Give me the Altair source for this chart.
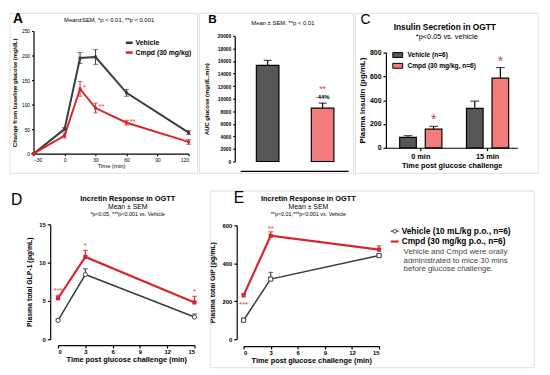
import altair as alt
import pandas as pd

FONT = "Liberation Sans"
RED = "#d8242b"
DARK = "#3b3b3b"
BAR_DARK = "#575757"
BAR_RED = "#f47b7b"
STAR = "#e23a40"
FRAME = "#e0e0e0"
GROUPS = ["Vehicle", "Cmpd"]

# ---------------- data ----------------
a_time = [-30, 0, 15, 30, 60, 120]
a_veh = [0, 50, 195, 197, 124, 43]
a_veh_sem = [0, 3, 11, 15, 7, 4]
a_cmp = [0, 37, 132, 93, 63, 24]
a_cmp_sem = [0, 5, 15, 10, 5, 5]
a_star_time = [15, 30, 60]
a_star_text = ["*", "**", "**"]
a_xticks = [-30, 0, 30, 60, 90, 120]
a_yticks = [0, 50, 100, 150, 200, 250]
a_legend = ["Vehicle", "Cmpd (30 mg/kg)"]
a_title = "Mean±SEM, *p < 0.01, **p < 0.001"

b_auc = [15300, 8500]
b_sem = [800, 800]
b_star = "**"
b_pct = "-44%"
b_yticks = list(range(0, 20001, 2000))
b_title = "Mean ± SEM, **p < 0.01"

c_times = ["0 min", "15 min"]
c_veh = [88, 331]
c_veh_sem = [14, 61]
c_cmp = [157, 585]
c_cmp_sem = [23, 89]
c_yticks = [0, 200, 400, 600, 800]
c_legend = ["Vehicle (n=6)", "Cmpd (30 mg/kg, n=6)"]
c_title = "Insulin Secretion in OGTT"
c_sub = "*p<0.05 vs. vehicle"

de_time = [0, 3, 15]
de_xticks = [0, 3, 6, 9, 12, 15]
d_veh = [2.45, 8.45, 2.9]
d_veh_sem = [0.2, 0.75, 0.4]
d_cmp = [5.35, 10.75, 4.8]
d_cmp_sem = [0.4, 0.85, 0.8]
d_star_text = ["***", "*", "*"]
d_yticks = [0, 5, 10, 15]
d_stats = "*p<0.05, ***p<0.001 vs. Vehicle"

e_veh = [100, 317, 441]
e_veh_sem = [10, 35, 8]
e_cmp = [231, 545, 472]
e_cmp_sem = [8, 21, 20]
e_yticks = [0, 200, 400, 600]
e_legend = ["Vehicle (10 mL/kg p.o., n=6)", "Cmpd (30 mg/kg p.o., n=6)"]
e_note = ["Vehicle and Cmpd were orally", "administrated to mice 30 mins", "before glucose challenge."]
e_stats = "**p<0.01,***p<0.001 vs. Vehicle"

inc_title = "Incretin Response in OGTT"
mean_sem = "Mean ± SEM"
xtitle_t = "Time post glucose challenge"

ROW_H = 182


# ---------------- helpers ----------------
def long_df(times, veh, veh_sem, cmp, cmp_sem):
    rows = []
    for g, means, sems in (("Vehicle", veh, veh_sem), ("Cmpd", cmp, cmp_sem)):
        for t, m, s in zip(times, means, sems):
            rows.append({"t": t, "g": g, "m": m, "lo": m - s, "hi": m + s})
    return pd.DataFrame(rows)


def axis(**kw):
    base = dict(grid=False, domainColor="black", domainWidth=1.2, tickColor="black",
                tickWidth=1.2, tickSize=3, labelFont=FONT, titleFont=FONT,
                labelColor="black", titleColor="black", titleFontWeight="bold",
                labelFontWeight="bold", labelPadding=2, minExtent=0)
    base.update(kw)
    return alt.Axis(**base)


def one():
    return pd.DataFrame({"k": [0]})


def box(x1, y1, x2, y2, stroke=FRAME, opacity=1):
    return alt.Chart(one()).mark_rect(fillOpacity=0, stroke=stroke, strokeWidth=1,
                                      strokeOpacity=opacity).encode(
        x=alt.value(x1), x2=alt.value(x2), y=alt.value(y1), y2=alt.value(y2))


def cell(w):
    # invisible rectangle covering the whole cell (defines its extent)
    return box(0, 0, w, ROW_H, opacity=0)


def label(text, x, y, size, weight="normal", color="black", align="center",
          baseline="middle"):
    return alt.Chart(pd.DataFrame({"label": [text]})).mark_text(
        align=align, baseline=baseline, fontSize=size, fontWeight=weight,
        font=FONT, color=color).encode(x=alt.value(x), y=alt.value(y), text="label:N")


def hrule(x1, x2, y, color, width):
    return alt.Chart(one()).mark_rule(color=color, strokeWidth=width).encode(
        x=alt.value(x1), x2=alt.value(x2), y=alt.value(y))


def swatch(x1, x2, y1, y2, fill):
    return alt.Chart(one()).mark_rect(fill=fill, stroke="black", strokeWidth=1).encode(
        x=alt.value(x1), x2=alt.value(x2), y=alt.value(y1), y2=alt.value(y2))


color = alt.Color("g:N", scale=alt.Scale(domain=GROUPS, range=[DARK, RED]), legend=None)
swidth = alt.StrokeWidth("g:N", scale=alt.Scale(domain=GROUPS, range=[1.5, 2.2]), legend=None)
fillB = alt.Fill("g:N", scale=alt.Scale(domain=GROUPS, range=[BAR_DARK, BAR_RED]), legend=None)

# ---------------- Panel A (cell 191 x 182, plot x 24..182, y 20..145) ----------------
dfA = long_df(a_time, a_veh, a_veh_sem, a_cmp, a_cmp_sem)
sxA = alt.Scale(domain=[-30, 120], range=[24, 182], nice=False, zero=False)
syA = alt.Scale(domain=[0, 250], range=[145, 20], nice=False)
axAx = axis(values=a_xticks, title="Time (min)", titleFontSize=6, titleFontWeight="normal",
            labelFontSize=5, labelFontWeight="normal", titleY=9, tickSize=2,
            offset=145 - ROW_H)
axAy = axis(values=a_yticks, title="Change from baseline glucose (mg/dL)", titleFontSize=6,
            labelFontSize=5, labelFontWeight="normal", titleX=-16, tickSize=2, offset=-24,
            format="d")


def XA(f):
    return alt.X(f, scale=sxA, axis=axAx)


def YA(f):
    return alt.Y(f, scale=syA, axis=axAy)


bA = alt.Chart(dfA)
starA = pd.DataFrame({"t": a_star_time,
                      "m": [a_cmp[a_time.index(t)] for t in a_star_time],
                      "s": a_star_text})
A = alt.layer(
    cell(191),
    box(0, 2, 191, 165),
    bA.mark_rule(strokeWidth=1).encode(x=XA("t:Q"), y=YA("lo:Q"), y2="hi:Q", color=color),
    bA.mark_tick(orient="horizontal", size=5, thickness=1).encode(x=XA("t:Q"), y=YA("hi:Q"), color=color),
    bA.mark_tick(orient="horizontal", size=5, thickness=1).encode(x=XA("t:Q"), y=YA("lo:Q"), color=color),
    bA.mark_line(strokeWidth=2).encode(x=XA("t:Q"), y=YA("m:Q"), color=color),
    bA.mark_point(shape="square", filled=True, size=9, opacity=1).encode(x=XA("t:Q"), y=YA("m:Q"), color=color),
    alt.Chart(starA).mark_text(align="left", baseline="middle", dx=3, dy=-1, fontSize=8,
                               font=FONT, color=STAR).encode(x=XA("t:Q"), y=YA("m:Q"), text="s:N"),
    label(a_title, 101, 9, 6),
    label("A", 3, 12, 14, "bold", align="left", baseline="alphabetic"),
    hrule(118, 125, 32, DARK, 2.5),
    hrule(118, 125, 42, RED, 2.5),
    label(a_legend[0], 128, 32, 7, "bold", align="left"),
    label(a_legend[1], 128, 42, 7, "bold", align="left"),
).properties(width=191, height=ROW_H)

# ---------------- Panel B (cell 157 x 182, plot x 36..143, y 25..153) ----------------
dfB = pd.DataFrame({"g": GROUPS, "m": b_auc, "hi": [m + s for m, s in zip(b_auc, b_sem)]})
sxB = alt.Scale(domain=GROUPS, range=[36, 143], paddingInner=0.589, paddingOuter=0.25, align=0.786)
syB = alt.Scale(domain=[0, 20000], range=[153, 25], nice=False)
axBy = axis(values=b_yticks, title="AUC glucose (mg/dL.min)", titleFontSize=6,
            labelFontSize=5, titleX=-26, tickSize=2, offset=-36, format="d")


def XB():
    return alt.X("g:N", sort=GROUPS, scale=sxB, axis=None)


def YB(f):
    return alt.Y(f, scale=syB, axis=axBy)


bB = alt.Chart(dfB)
starB = pd.DataFrame({"g": ["Cmpd"], "hi": [b_auc[1] + b_sem[1]], "s": [b_star], "p": [b_pct]})
B = alt.layer(
    cell(157),
    box(0, 2, 157, 165),
    bB.mark_rule(strokeWidth=1.2, color="black").encode(x=XB(), y=YB("m:Q"), y2="hi:Q"),
    bB.mark_tick(orient="horizontal", size=8, thickness=1.2, color="black").encode(x=XB(), y=YB("hi:Q")),
    bB.mark_bar(stroke="black", strokeWidth=1.2).encode(x=XB(), y=YB("m:Q"), fill=fillB),
    alt.Chart(starB).mark_text(baseline="middle", dy=-14.5, fontSize=9, font=FONT,
                               color=STAR).encode(x=XB(), y=YB("hi:Q"), text="s:N"),
    alt.Chart(starB).mark_text(baseline="middle", dy=-6.5, fontSize=6, fontWeight="bold",
                               font=FONT, color="black").encode(x=XB(), y=YB("hi:Q"), text="p:N"),
    hrule(42, 152, 163, "black", 1.2),
    label(b_title, 85, 12, 6),
    label("B", 9, 12, 12, "bold", align="left", baseline="alphabetic"),
).properties(width=157, height=ROW_H)

# ---------------- Panel C (cell 188 x 182, plot x 31..165, y 42..139) ----------------
rowsC = []
for g, means, sems in (("Vehicle", c_veh, c_veh_sem), ("Cmpd", c_cmp, c_cmp_sem)):
    for t, m, s in zip(c_times, means, sems):
        rowsC.append({"time": t, "g": g, "m": m, "hi": m + s})
dfC = pd.DataFrame(rowsC)
sxC = alt.Scale(domain=c_times, range=[31, 165], paddingInner=0.368, paddingOuter=0.169, align=0.61)
axCx = axis(title=xtitle_t, titleFontSize=7.5, labelFontSize=7.5, labelAngle=0, titleY=14,
            offset=139 - ROW_H)
soC = alt.Scale(domain=GROUPS, paddingInner=0.35, paddingOuter=0)
syC = alt.Scale(domain=[0, 800], range=[139, 42], nice=False)
axCy = axis(values=c_yticks, title="Plasma insulin (pg/mL)", titleFontSize=8,
            labelFontSize=7, titleX=-20, offset=-31, format="d")


def XC():
    return alt.X("time:N", sort=c_times, scale=sxC, axis=axCx)


def OC():
    return alt.XOffset("g:N", sort=GROUPS, scale=soC)


def YC(f):
    return alt.Y(f, scale=syC, axis=axCy)


bC = alt.Chart(dfC)
C = alt.layer(
    cell(188),
    box(0, 2, 186, 165),
    bC.mark_rule(strokeWidth=1.2, color="black").encode(x=XC(), xOffset=OC(), y=YC("m:Q"), y2="hi:Q"),
    bC.mark_tick(orient="horizontal", size=9, thickness=1.2, color="black").encode(x=XC(), xOffset=OC(), y=YC("hi:Q")),
    bC.mark_bar(stroke="black", strokeWidth=1.2).encode(x=XC(), xOffset=OC(), y=YC("m:Q"), fill=fillB),
    bC.transform_filter(alt.datum.g == "Cmpd").mark_text(
        baseline="middle", dy=-6, fontSize=14, font=FONT, color=STAR, text="*").encode(
        x=XC(), xOffset=OC(), y=YC("hi:Q")),
    swatch(38, 48, 42, 47, BAR_DARK),
    swatch(38, 48, 53, 58, BAR_RED),
    label(c_legend[0], 53, 44.5, 6.7, "bold", align="left"),
    label(c_legend[1], 53, 55.5, 6.7, "bold", align="left"),
    label(c_title, 91, 16, 8.5, "bold"),
    label(c_sub, 93, 26, 7.5),
    label("C", 5, 13, 14, "normal", align="left", baseline="alphabetic"),
).properties(width=188, height=ROW_H)


# ---------------- Panels D & E ----------------
def incretin(df, ydom, yticks, ytitle, plot, ytx, vshape, stars, letter, letter_xy, title_x,
             stats, width, extra):
    x0, x1, y0, y1, yaxis_x, xaxis_y = plot
    sx = alt.Scale(domain=[0, 15], range=[x0, x1], nice=False)
    sy = alt.Scale(domain=ydom, range=[y1, y0], nice=False)
    ax_x = axis(values=de_xticks, title=xtitle_t + " (min)", titleFontSize=7.5,
                labelFontSize=6, labelPadding=1, offset=xaxis_y - ROW_H, titleY=11)
    ax_y = axis(values=yticks, title=ytitle, titleFontSize=7, labelFontSize=6,
                offset=-yaxis_x, titleX=ytx, format="d")

    def X(f):
        return alt.X(f, scale=sx, axis=ax_x)

    def Y(f):
        return alt.Y(f, scale=sy, axis=ax_y)

    b = alt.Chart(df)
    layers = [cell(width)] + extra[0] + [
        b.mark_rule(strokeWidth=1.2).encode(x=X("t:Q"), y=Y("m:Q"), y2="hi:Q", color=color),
        b.mark_tick(orient="horizontal", size=5, thickness=1.2).encode(x=X("t:Q"), y=Y("hi:Q"), color=color),
        b.mark_line().encode(x=X("t:Q"), y=Y("m:Q"), color=color, strokeWidth=swidth),
        b.transform_filter(alt.datum.g == "Vehicle").mark_point(
            shape=vshape, filled=True, fill="white", stroke=DARK, strokeWidth=1, size=18,
            opacity=1).encode(x=X("t:Q"), y=Y("m:Q")),
        b.transform_filter(alt.datum.g == "Cmpd").mark_point(
            shape="square", filled=True, color=RED, size=18, opacity=1).encode(x=X("t:Q"), y=Y("m:Q")),
    ]
    for sdf, dy in stars:
        layers.append(alt.Chart(sdf).mark_text(baseline="middle", dy=dy, fontSize=8, font=FONT,
                                               color=STAR).encode(x=X("t:Q"), y=Y("y:Q"), text="s:N"))
    layers += [
        label(inc_title, title_x, 9.5, 7.5, "bold"),
        label(mean_sem, title_x, 17, 7),
        label(stats, title_x, 24.5, 5.5),
        label(letter, letter_xy[0], letter_xy[1], 16, "normal", align="left", baseline="alphabetic"),
    ]
    layers += extra[1]
    return alt.layer(*layers).properties(width=width, height=ROW_H)


dfD = long_df(de_time, d_veh, d_veh_sem, d_cmp, d_cmp_sem)
starD = pd.DataFrame({"t": de_time, "y": [m + s for m, s in zip(d_cmp, d_cmp_sem)], "s": d_star_text})
D = incretin(dfD, [0, 15], d_yticks, "Plasma total GLP-1 (pg/mL)",
             (49, 188, 35, 152, 41, 158), -18, "circle",
             [(starD, -4)], "D", (1, 15), 120, d_stats, 201, ([], []))

dfE = long_df(de_time, e_veh, e_veh_sem, e_cmp, e_cmp_sem)
starE1 = pd.DataFrame({"t": [0], "y": [e_cmp[0]], "s": ["***"]})
starE2 = pd.DataFrame({"t": [3], "y": [e_cmp[1] + e_cmp_sem[1]], "s": ["**"]})
legE = [
    hrule(187, 195, 42, DARK, 1.2),
    alt.Chart(one()).mark_point(shape="circle", filled=True, fill="white", stroke=DARK,
                                strokeWidth=1, size=14, opacity=1).encode(x=alt.value(191), y=alt.value(42)),
    hrule(187, 195, 52.5, RED, 2.2),
    label(e_legend[0], 198, 42, 8.5, "bold", align="left"),
    label(e_legend[1], 198, 52.5, 8.5, "bold", align="left"),
    label(e_note[0], 200, 63.5, 8, color="#444444", align="left"),
    label(e_note[1], 200, 72, 8, color="#444444", align="left"),
    label(e_note[2], 200, 80.5, 8, color="#444444", align="left"),
]
E = incretin(dfE, [0, 600], e_yticks, "Plasma total GIP (pg/mL)",
             (37, 175, 36, 152, 30, 159), -22, "square",
             [(starE1, 10), (starE2, -3)], "E", (27, 13), 103, e_stats, 335,
             ([box(3, 1, 333, 181)], legE))

top = alt.hconcat(A, B, C, spacing=0)
bottom = alt.hconcat(D, E, spacing=0)
chart = alt.vconcat(top, bottom, spacing=0).properties(
    padding={"left": 1, "top": 0, "right": 2, "bottom": 0},
    background="white",
).configure_view(strokeWidth=0)

chart.save("out.html", embed_options={"renderer": "svg", "actions": False})
